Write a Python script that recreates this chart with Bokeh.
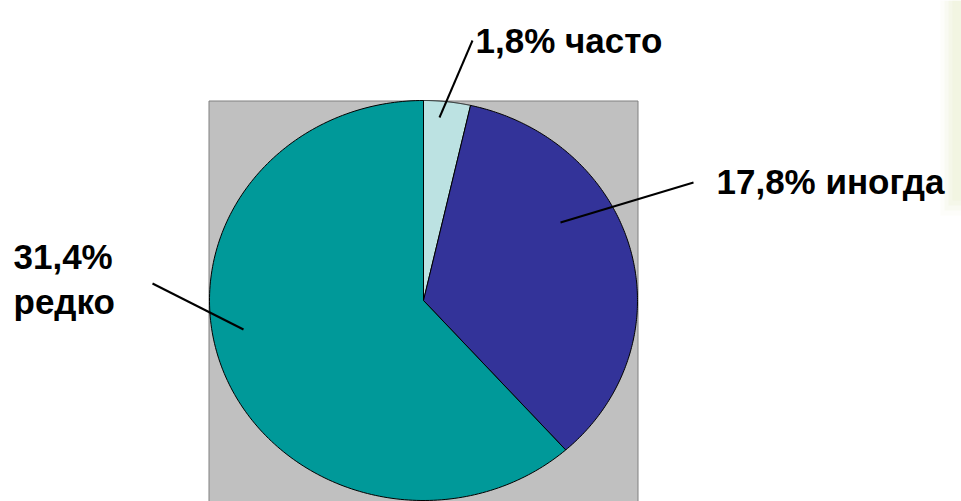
import numpy as np
from bokeh.plotting import figure
from bokeh.models import Range1d
from bokeh.core.properties import value
from bokeh.embed import file_html
from bokeh.resources import INLINE

# ---- data ----
categories = ["часто", "иногда", "редко"]
percents = [1.8, 17.8, 31.4]
pct_labels = ["1,8%", "17,8%", "31,4%"]
colors = ["#BCE2E2", "#333399", "#009999"]

W, H = 961, 501
p = figure(width=W, height=H, x_range=Range1d(0, W), y_range=Range1d(0, H),
           output_backend="svg", toolbar_location=None, min_border=0,
           x_axis_type=None, y_axis_type=None)
p.grid.visible = False
p.outline_line_color = None
p.background_fill_color = "white"
p.border_fill_color = "white"


def Y(y):
    return H - y


# faint decoration on the right edge (soft gradient)
for k, al in enumerate([0.25, 0.45, 0.65, 0.8]):
    p.quad(left=[940 + 4 * k], right=[961], top=[Y(0)], bottom=[Y(215 - 5 * k)],
           fill_color="#eef3d6", line_color=None, fill_alpha=al * 0.5)

# gray plot area
p.quad(left=[208.5], right=[637.5], top=[Y(100.5)], bottom=[Y(520)],
       fill_color="#C0C0C0", line_color="#808080", line_width=1)

# pie (elliptical, as in the original)
cx, cy, a, b = 423.0, Y(300.0), 214.0, 200.0
vals = np.array(percents, dtype=float)
fr = np.cumsum(np.concatenate([[0.0], vals])) / vals.sum()
xs, ys = [], []
for i in range(len(vals)):
    t = np.linspace(fr[i], fr[i + 1], 200) * 2 * np.pi
    xs.append([cx] + list(cx + a * np.sin(t)) + [cx])
    ys.append([cy] + list(cy + b * np.cos(t)) + [cy])
p.patches(xs, ys, fill_color=colors, line_color="black", line_width=1)

# leader lines
p.segment(x0=[472, 693, 152], y0=[Y(40), Y(182), Y(283)],
          x1=[439, 560, 243], y1=[Y(117), Y(222), Y(329)],
          line_color="black", line_width=2)

# labels
font = value("Liberation Sans")
p.text(x=[475, 716], y=[Y(40), Y(181)],
       text=[pct_labels[0] + " " + categories[0], pct_labels[1] + " " + categories[1]],
       text_font=font, text_font_style="bold", text_font_size="35px",
       text_color="black", text_baseline="alphabetic", text_align="left")
p.text(x=[13, 13], y=[Y(256), Y(301)], text=[pct_labels[2], categories[2]],
       text_font=font, text_font_style="bold", text_font_size="35px",
       text_color="black", text_baseline="alphabetic", text_align="left")

open("out.html", "w").write(file_html(p, INLINE))
